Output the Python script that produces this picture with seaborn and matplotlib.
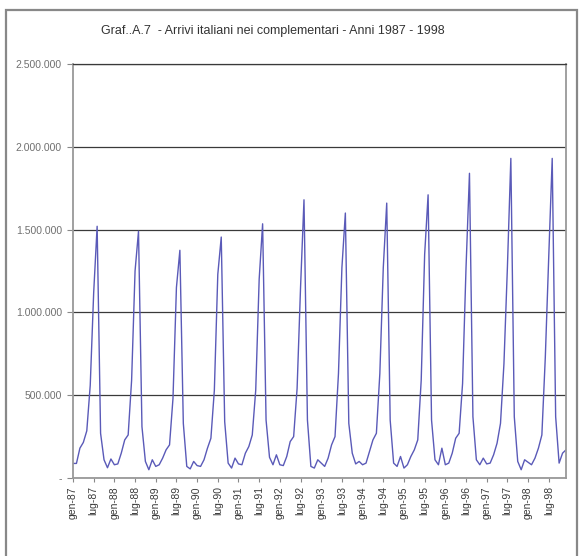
import matplotlib
matplotlib.use("Agg")
import matplotlib.pyplot as plt
from matplotlib.patches import Rectangle
from matplotlib.ticker import FuncFormatter
import seaborn as sns
import pandas as pd

# Arrivi mensili italiani negli esercizi complementari (migliaia), gen-dic
anni = [1987, 1988, 1989, 1990, 1991, 1992, 1993, 1994, 1995, 1996, 1997, 1998]
arrivi_1987 = [88, 88, 180, 215, 285, 560, 1120, 1520, 270, 110, 62, 115]
arrivi_1988 = [80, 85, 150, 230, 260, 590, 1250, 1490, 310, 100, 50, 110]
arrivi_1989 = [70, 80, 120, 170, 200, 480, 1150, 1375, 330, 70, 55, 100]
arrivi_1990 = [75, 70, 110, 180, 240, 530, 1230, 1455, 340, 90, 60, 120]
arrivi_1991 = [85, 80, 150, 190, 260, 530, 1200, 1535, 350, 125, 80, 140]
arrivi_1992 = [80, 75, 130, 220, 250, 540, 1150, 1680, 350, 70, 60, 110]
arrivi_1993 = [90, 70, 120, 200, 250, 630, 1270, 1600, 330, 150, 85, 100]
arrivi_1994 = [80, 90, 160, 230, 270, 630, 1270, 1660, 350, 90, 70, 130]
arrivi_1995 = [60, 80, 130, 170, 230, 590, 1350, 1710, 350, 110, 80, 180]
arrivi_1996 = [80, 90, 150, 240, 270, 570, 1270, 1840, 370, 110, 80, 120]
arrivi_1997 = [85, 90, 140, 210, 330, 690, 1270, 1930, 370, 100, 50, 110]
arrivi_1998 = [95, 80, 120, 180, 260, 730, 1340, 1930, 370, 90, 150, 170]

mesi_etichetta = ["gen", "lug"]
y_ticks = [0, 500000, 1000000, 1500000, 2000000, 2500000]

serie = [arrivi_1987, arrivi_1988, arrivi_1989, arrivi_1990, arrivi_1991,
         arrivi_1992, arrivi_1993, arrivi_1994, arrivi_1995, arrivi_1996,
         arrivi_1997, arrivi_1998]
valori = [v * 1000 for anno in serie for v in anno]
df = pd.DataFrame({"mese": range(len(valori)), "arrivi": valori})

tick_pos = list(range(0, len(valori), 6))
tick_lab = [f"{mesi_etichetta[(p // 6) % 2]}-{str(anni[p // 12])[2:]}" for p in tick_pos]

sns.set_style("white")
plt.rcParams["font.family"] = ["Liberation Sans", "DejaVu Sans"]

fig = plt.figure(figsize=(5.88, 5.56), dpi=100)
ax = fig.add_axes([73 / 588, 1 - 478 / 556, (566 - 73) / 588, (478 - 64) / 556])

sns.lineplot(data=df, x="mese", y="arrivi", ax=ax, color="#5a5ab8", linewidth=1.0)

ax.set_xlim(0, len(valori) - 1)
ax.set_ylim(0, 2500000)
ax.set_yticks(y_ticks)
ax.yaxis.set_major_formatter(FuncFormatter(
    lambda v, _: "-" if v == 0 else f"{int(v):,}".replace(",", ".")))
ax.set_xticks(tick_pos)
ax.set_xticklabels(tick_lab, rotation=90, fontsize=7.5, color="#3a3a3a")
ax.tick_params(axis="y", labelsize=7.5, labelcolor="#707070", length=4,
               width=0.8, color="#888888", left=True, pad=4)
ax.tick_params(axis="x", length=3, width=0.8, color="#888888", bottom=True, pad=3)

ax.grid(axis="y", color="#3a3a3a", linewidth=0.9)
ax.set_axisbelow(True)
for side in ["left", "bottom", "right"]:
    ax.spines[side].set_color("#999999")
    ax.spines[side].set_linewidth(1.3)
ax.spines["top"].set_color("#3a3a3a")
ax.spines["top"].set_linewidth(0.9)
ax.set_xlabel("")
ax.set_ylabel("")

fig.text(273 / 588, 1 - 31 / 556,
         "Graf..A.7  - Arrivi italiani nei complementari - Anni 1987 - 1998",
         ha="center", va="center", fontsize=9, color="#333333")

fig.patches.append(Rectangle((6 / 588, -0.05), (577 - 6) / 588, 1.05 - 10 / 556,
                             transform=fig.transFigure, fill=False,
                             edgecolor="#888888", linewidth=1.6))

fig.savefig("out.png", dpi=100, facecolor="white")
